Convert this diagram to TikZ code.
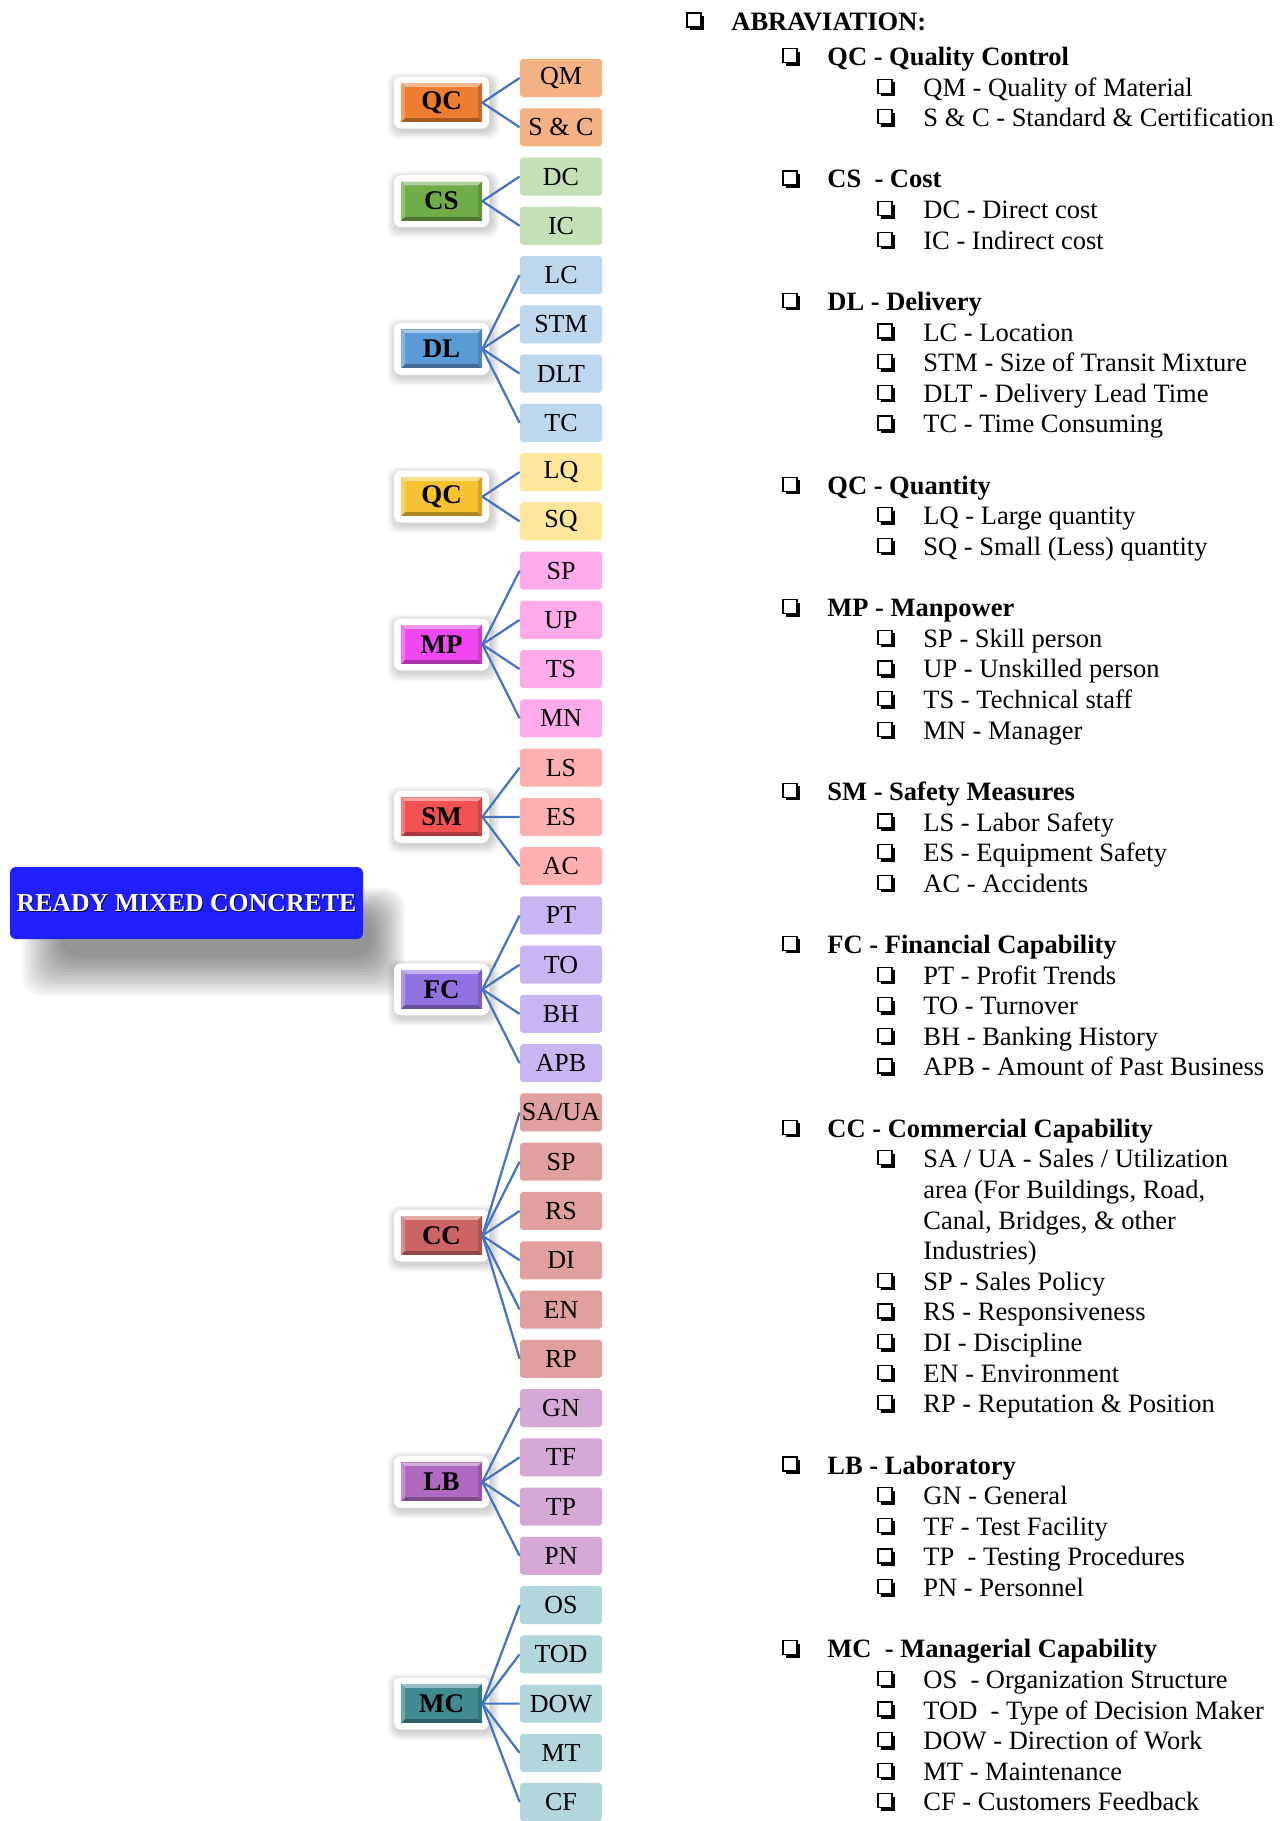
\documentclass[tikz,border=0pt]{standalone}
\usepackage{fontspec}
\setmainfont{Liberation Serif}
\usetikzlibrary{calc}
\pgfdeclarelayer{bg}
\pgfsetlayers{bg,main}
\definecolor{lineblue}{HTML}{4472C4}
\definecolor{rootblue}{HTML}{2020FF}
\definecolor{fOr}{HTML}{ED7D31}\definecolor{lOr}{HTML}{F4B183}
\definecolor{fGr}{HTML}{70AD47}\definecolor{lGr}{HTML}{C5E0B4}
\definecolor{fBl}{HTML}{5B9BD5}\definecolor{lBl}{HTML}{BDD7EE}
\definecolor{fYe}{HTML}{F5C231}\definecolor{lYe}{HTML}{FFE699}
\definecolor{fMa}{HTML}{F048F0}\definecolor{lMa}{HTML}{FFABEB}
\definecolor{fRe}{HTML}{F25252}\definecolor{lRe}{HTML}{FFB1B1}
\definecolor{fPu}{HTML}{9272E0}\definecolor{lPu}{HTML}{C8B6F2}
\definecolor{fCc}{HTML}{CC6464}\definecolor{lCc}{HTML}{E0A0A0}
\definecolor{fLb}{HTML}{B068C0}\definecolor{lLb}{HTML}{D5A8D6}
\definecolor{fMc}{HTML}{3F8B90}\definecolor{lMc}{HTML}{B1D7DC}
\newcommand\lfont{\fontsize{13.25pt}{15pt}\selectfont}
% mid box: name, y, colour, text
\newcommand\midbox[4]{%
  \foreach \i in {0,...,5} \fill[black,opacity=0.03,rounded corners=5pt] ({395-\i*1.5},{#2-24-\i*1.2}) rectangle ({492+\i*1.5},{#2+29+\i*1.5});
  \fill[white,rounded corners=3.5pt] (394,{#2-26}) rectangle (489,{#2+26});
  \fill[#3!70!black] (401,{#2-19.5}) rectangle (482,{#2+19.5});
  \fill[#3!55!white] (401,{#2-19.5}) -- (482,{#2-19.5}) -- (478,{#2-15.5}) -- (405,{#2-15.5}) -- cycle;
  \fill[#3!75!white] (401,{#2-19.5}) -- (405,{#2-15.5}) -- (405,{#2+15.5}) -- (401,{#2+19.5}) -- cycle;
  \fill[#3!85!black] (482,{#2-19.5}) -- (478,{#2-15.5}) -- (478,{#2+15.5}) -- (482,{#2+19.5}) -- cycle;
  \fill[#3] (405,{#2-15.5}) rectangle (478,{#2+15.5});
  \node[midtxt] (#1) at (441.5,#2) {#4};
}
% leaf: index, text, colour, parent
\newcommand\leaf[4]{%
  \node[leaf,fill=#3] (L#1) at (561,{78+49.26*#1}) {#2};
  \draw[conn] (#4.east) -- (L#1.west);
}
% checkbox
\newcommand\cbx[2]{%
  \draw[line width=0.6pt] ({#1-8},{#2-8}) rectangle ({#1+6},{#2+6});
  \fill ({#1-5},{#2+6}) rectangle ({#1+9},{#2+9});
  \fill ({#1+6},{#2-5}) rectangle ({#1+9},{#2+9});
}
\newcommand\Ltwo[3]{\cbx{791}{56.5+30.62*#2}\node[ltxt,font={\lfont\bfseries}] (#1) at (827,{56.5+30.62*#2+9}) {#3};}
\newcommand\Lthree[3]{\cbx{886}{56.5+30.62*#2}\node[ltxt] (#1) at (923,{56.5+30.62*#2+9}) {#3};}
\newcommand\Lcont[3]{\node[ltxt] (#1) at (923,{56.5+30.62*#2+9}) {#3};}
\begin{document}
\begin{tikzpicture}[x=0.5pt,y=-0.5pt,
  conn/.style={draw=lineblue,line width=1.1pt},
  leaf/.style={minimum width=41pt,minimum height=19pt,inner sep=0pt,rounded corners=1.5pt,font=\fontsize{13}{15}\selectfont},
  midtxt/.style={minimum width=40.5pt,minimum height=19.5pt,inner sep=0pt,font=\fontsize{13.5}{15}\selectfont\bfseries},
  rootnode/.style={fill=rootblue,minimum width=176.5pt,minimum height=36pt,inner sep=0pt,rounded corners=3pt},
  roottxt/.style={inner sep=0pt,font=\fontsize{12.9}{15}\selectfont\bfseries},
  ltxt/.style={anchor=base west,inner sep=0pt,font=\lfont}]
\useasboundingbox (0,0) rectangle (1287,1821);
\fill[white] (0,0) rectangle (1287,1821);
% root shadow
\foreach \i in {0,...,13} \fill[black,opacity=0.035,rounded corners=10pt] ({22+\i*3},{888+\i*2}) rectangle ({405-\i*2.5},{996-\i*3});
\node[rootnode] (root) at (186.5,903) {};
\node[roottxt,text=black!70!blue] (roottextshadow) at (187.5,904.5) {READY MIXED CONCRETE};
\node[roottxt,text=white] (roottext) at (186.5,903) {READY MIXED CONCRETE};
% mid boxes
\midbox{qca}{102.63}{fOr}{QC}
\midbox{cs}{201.15}{fGr}{CS}
\midbox{dl}{348.93}{fBl}{DL}
\midbox{qcb}{496.71}{fYe}{QC}
\midbox{mp}{644.49}{fMa}{MP}
\midbox{sm}{816.9}{fRe}{SM}
\midbox{fc}{989.31}{fPu}{FC}
\midbox{cc}{1235.61}{fCc}{CC}
\midbox{lb}{1481.91}{fLb}{LB}
\midbox{mc}{1703.58}{fMc}{MC}
% root connectors (behind)
\begin{pgfonlayer}{bg}
\foreach \m in {qca,cs,dl,qcb,mp,sm,fc,cc,lb,mc} \draw[conn] (root.east) -- (\m.west);
\end{pgfonlayer}
% leaves
\leaf{0}{QM}{lOr}{qca}
\leaf{1}{S \& C}{lOr}{qca}
\leaf{2}{DC}{lGr}{cs}
\leaf{3}{IC}{lGr}{cs}
\leaf{4}{LC}{lBl}{dl}
\leaf{5}{STM}{lBl}{dl}
\leaf{6}{DLT}{lBl}{dl}
\leaf{7}{TC}{lBl}{dl}
\leaf{8}{LQ}{lYe}{qcb}
\leaf{9}{SQ}{lYe}{qcb}
\leaf{10}{SP}{lMa}{mp}
\leaf{11}{UP}{lMa}{mp}
\leaf{12}{TS}{lMa}{mp}
\leaf{13}{MN}{lMa}{mp}
\leaf{14}{LS}{lRe}{sm}
\leaf{15}{ES}{lRe}{sm}
\leaf{16}{AC}{lRe}{sm}
\leaf{17}{PT}{lPu}{fc}
\leaf{18}{TO}{lPu}{fc}
\leaf{19}{BH}{lPu}{fc}
\leaf{20}{APB}{lPu}{fc}
\leaf{21}{SA/UA}{lCc}{cc}
\leaf{22}{SP}{lCc}{cc}
\leaf{23}{RS}{lCc}{cc}
\leaf{24}{DI}{lCc}{cc}
\leaf{25}{EN}{lCc}{cc}
\leaf{26}{RP}{lCc}{cc}
\leaf{27}{GN}{lLb}{lb}
\leaf{28}{TF}{lLb}{lb}
\leaf{29}{TP}{lLb}{lb}
\leaf{30}{PN}{lLb}{lb}
\leaf{31}{OS}{lMc}{mc}
\leaf{32}{TOD}{lMc}{mc}
\leaf{33}{DOW}{lMc}{mc}
\leaf{34}{MT}{lMc}{mc}
\leaf{35}{CF}{lMc}{mc}
% abbreviation list
\cbx{695}{21}
\node[ltxt,font={\lfont\bfseries}] (abr) at (731,30) {ABRAVIATION:};
\Ltwo{t0}{0}{QC - Quality Control}
\Lthree{t1}{1}{QM - Quality of Material}
\Lthree{t2}{2}{S \& C - Standard \& Certification}
\Ltwo{t4}{4}{CS\ \ - Cost}
\Lthree{t5}{5}{DC - Direct cost}
\Lthree{t6}{6}{IC - Indirect cost}
\Ltwo{t8}{8}{DL - Delivery}
\Lthree{t9}{9}{LC - Location}
\Lthree{t10}{10}{STM - Size of Transit Mixture}
\Lthree{t11}{11}{DLT - Delivery Lead Time}
\Lthree{t12}{12}{TC - Time Consuming}
\Ltwo{t14}{14}{QC - Quantity}
\Lthree{t15}{15}{LQ - Large quantity}
\Lthree{t16}{16}{SQ - Small (Less) quantity}
\Ltwo{t18}{18}{MP - Manpower}
\Lthree{t19}{19}{SP - Skill person}
\Lthree{t20}{20}{UP - Unskilled person}
\Lthree{t21}{21}{TS - Technical staff}
\Lthree{t22}{22}{MN - Manager}
\Ltwo{t24}{24}{SM - Safety Measures}
\Lthree{t25}{25}{LS - Labor Safety}
\Lthree{t26}{26}{ES - Equipment Safety}
\Lthree{t27}{27}{AC - Accidents}
\Ltwo{t29}{29}{FC - Financial Capability}
\Lthree{t30}{30}{PT - Profit Trends}
\Lthree{t31}{31}{TO - Turnover}
\Lthree{t32}{32}{BH - Banking History}
\Lthree{t33}{33}{APB - Amount of Past Business}
\Ltwo{t35}{35}{CC - Commercial Capability}
\Lthree{t36}{36}{SA / UA - Sales / Utilization}
\Lcont{t37}{37}{area (For Buildings, Road,}
\Lcont{t38}{38}{Canal, Bridges, \& other}
\Lcont{t39}{39}{Industries)}
\Lthree{t40}{40}{SP - Sales Policy}
\Lthree{t41}{41}{RS - Responsiveness}
\Lthree{t42}{42}{DI - Discipline}
\Lthree{t43}{43}{EN - Environment}
\Lthree{t44}{44}{RP - Reputation \& Position}
\Ltwo{t46}{46}{LB - Laboratory}
\Lthree{t47}{47}{GN - General}
\Lthree{t48}{48}{TF - Test Facility}
\Lthree{t49}{49}{TP\ \ - Testing Procedures}
\Lthree{t50}{50}{PN - Personnel}
\Ltwo{t52}{52}{MC\ \ - Managerial Capability}
\Lthree{t53}{53}{OS\ \ - Organization Structure}
\Lthree{t54}{54}{TOD\ \ - Type of Decision Maker}
\Lthree{t55}{55}{DOW - Direction of Work}
\Lthree{t56}{56}{MT - Maintenance}
\Lthree{t57}{57}{CF - Customers Feedback}
\end{tikzpicture}
\end{document}
